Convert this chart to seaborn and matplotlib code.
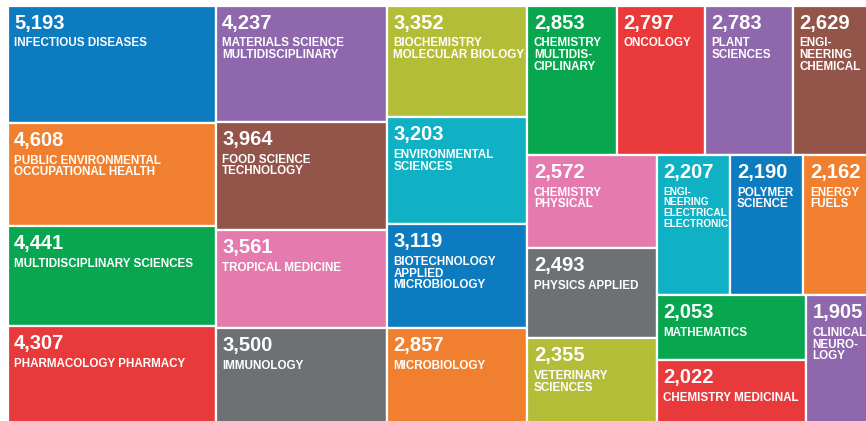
import matplotlib
matplotlib.use("Agg")
import matplotlib.pyplot as plt
from matplotlib.patches import Rectangle
import seaborn as sns

# -----------------------------
# data
# -----------------------------
categories = [
    "INFECTIOUS DISEASES",
    "PUBLIC ENVIRONMENTAL\nOCCUPATIONAL HEALTH",
    "MULTIDISCIPLINARY SCIENCES",
    "PHARMACOLOGY PHARMACY",
    "MATERIALS SCIENCE\nMULTIDISCIPLINARY",
    "FOOD SCIENCE\nTECHNOLOGY",
    "TROPICAL MEDICINE",
    "IMMUNOLOGY",
    "BIOCHEMISTRY\nMOLECULAR BIOLOGY",
    "ENVIRONMENTAL\nSCIENCES",
    "BIOTECHNOLOGY\nAPPLIED\nMICROBIOLOGY",
    "MICROBIOLOGY",
    "CHEMISTRY\nMULTIDIS-\nCIPLINARY",
    "ONCOLOGY",
    "PLANT\nSCIENCES",
    "ENGI-\nNEERING\nCHEMICAL",
    "CHEMISTRY\nPHYSICAL",
    "PHYSICS APPLIED",
    "VETERINARY\nSCIENCES",
    "ENGI-\nNEERING\nELECTRICAL\nELECTRONIC",
    "POLYMER\nSCIENCE",
    "ENERGY\nFUELS",
    "MATHEMATICS",
    "CHEMISTRY MEDICINAL",
    "CLINICAL\nNEURO-\nLOGY",
]
records = [5193, 4608, 4441, 4307, 4237, 3964, 3561, 3500, 3352, 3203,
           3119, 2857, 2853, 2797, 2783, 2629, 2572, 2493, 2355, 2207,
           2190, 2162, 2053, 2022, 1905]

# how many tiles go in each strip of the treemap, in order
strip_counts = [4, 4, 4, 4, 3, 3, 2, 1]

palette_hex = ["#0d7bbf", "#f0802f", "#07a64f", "#e8393b", "#8e67ad",
               "#93544a", "#e57aaf", "#6e7173", "#b4bd38", "#10b1c4"]


# -----------------------------
# strip treemap layout
# -----------------------------
def strip_layout(areas, counts, x, y, dx, dy):
    rects = []
    k = 0
    for n in counts:
        row = areas[k:k + n]
        k += n
        s = sum(row)
        if dx >= dy:
            w = s / dy
            yy = y
            for a in row:
                h = a / w
                rects.append((x, yy, w, h))
                yy += h
            x += w
            dx -= w
        else:
            h = s / dx
            xx = x
            for a in row:
                w = a / h
                rects.append((xx, y, w, h))
                xx += w
            y += h
            dy -= h
    return rects


X0, Y0, W, H = 7.5, 5.5, 868.0, 418.0
total = sum(records)
areas = [v * W * H / total for v in records]
rects = strip_layout(areas, strip_counts, X0, Y0, W, H)

# -----------------------------
# plot
# -----------------------------
sns.set_theme(style="white")
plt.rcParams["font.family"] = ["Liberation Sans", "DejaVu Sans"]
pal = sns.color_palette(palette_hex)
colors = [pal[i % len(pal)] for i in range(len(records))]

fig = plt.figure(figsize=(8.66, 4.21), dpi=100)
ax = fig.add_axes([0, 0, 1, 1])
ax.set_xlim(0, 866)
ax.set_ylim(421, 0)
ax.axis("off")
renderer = fig.canvas.get_renderer()

for (x, y, w, h), val, lab, c in zip(rects, records, categories, colors):
    ax.add_patch(Rectangle((x, y), w, h, facecolor=c, edgecolor="white", linewidth=1.6))
    ax.text(x + 6.5, y + 8, f"{val:,}", color="white", fontsize=14.5,
            fontweight="bold", va="top", ha="left")
    t = ax.text(x + 6.5, y + 32, lab, color="white", fontsize=8.4, fontweight="bold",
                va="top", ha="left", linespacing=0.95)
    # shrink labels that would spill into the next tile (but not off the picture)
    limit = min(w - 8, 866 - x)
    tw = t.get_window_extent(renderer).width
    if tw > limit:
        t.set_fontsize(8.4 * limit / tw)
        t.set_linespacing(0.95 * 8.4 / (8.4 * limit / tw))

fig.savefig("out.png", dpi=100, facecolor="white")
